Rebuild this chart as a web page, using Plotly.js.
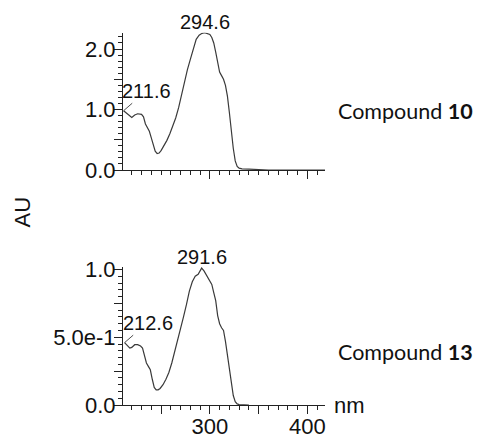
<!DOCTYPE html>
<html>
<head>
<meta charset="utf-8">
<script src="https://cdn.plot.ly/plotly-3.0.1.min.js"></script>
<style>html,body{margin:0;padding:0;background:#fff;}#chart{width:478px;height:436px;}</style>
</head>
<body>
<div id="chart"></div>
<script>
// Compound 10 spectrum
const wl10 = [211.6,214,217,220,223,226,230,232,234,236,238,240,242,244,246,248,250,253,256,259,262,265,268,271,274,277,280,283,286,289,292,294.6,297,300,302,304,306,308,310,312,314,316,318,320,322,324,326,328,330,333,340,348,352,360,380,400,418];
const au10 = [0.98,0.95,0.90,0.87,0.91,0.93,0.92,0.88,0.76,0.69,0.64,0.53,0.41,0.31,0.27,0.28,0.32,0.40,0.49,0.60,0.72,0.86,1.03,1.26,1.48,1.66,1.83,2.00,2.16,2.23,2.26,2.27,2.26,2.24,2.19,2.10,1.95,1.76,1.62,1.56,1.50,1.40,1.22,0.95,0.64,0.36,0.15,0.06,0.03,0.02,0.015,0.01,0,0,0,0,0];
// Compound 13 spectrum
const wl13 = [212.6,215,218,220,223,226,229,231,233,235,237,239,241,243,245,247,249,252,255,258,261,264,267,270,273,276,279,282,285,288,290,291.6,294,297,300,302,304,306,308,310,312,314,316,318,320,322,324,326,328,330,335,340];
const au13 = [0.46,0.44,0.42,0.425,0.445,0.445,0.435,0.42,0.36,0.31,0.285,0.26,0.19,0.13,0.112,0.112,0.122,0.15,0.19,0.24,0.31,0.39,0.47,0.56,0.65,0.74,0.84,0.91,0.95,0.965,0.985,1.01,0.99,0.955,0.92,0.89,0.83,0.77,0.66,0.60,0.57,0.55,0.47,0.36,0.25,0.15,0.07,0.025,0.008,0.003,0,0];
// labelled peaks
const peaks10 = [211.6, 294.6];
const peaks13 = [212.6, 291.6];
// tick labels
const xTickVals = [250,300,350,400];
const xTickText = ['','300','','400'];
const yTickVals10 = [0,0.5,1,1.5,2];
const yTickText10 = ['0.0','','1.0','','2.0'];
const yTickVals13 = [0,0.25,0.5,0.75,1];
const yTickText13 = ['0.0','','5.0e-1','','1.0'];
const labels = ['Compound <b>10</b>','Compound <b>13</b>'];

const lineColor = '#222';
const traces = [
  {x: wl10, y: au10, xaxis:'x', yaxis:'y', mode:'lines', line:{color:'#3a3a3a', width:1.2}, hoverinfo:'skip'},
  {x: wl13, y: au13, xaxis:'x2', yaxis:'y2', mode:'lines', line:{color:'#3a3a3a', width:1.2}, hoverinfo:'skip'}
];

function xaxisDef(anchor, showLabels){
  return {domain:[123/478, 325/478], anchor:anchor, range:[211,418], showline:true, linecolor:lineColor, linewidth:1,
    ticks:'outside', ticklen:8, tickwidth:1, tickcolor:lineColor, tickmode:'array', tickvals:xTickVals, ticktext:xTickText,
    showticklabels:showLabels, ticklabelstandoff:-6, showgrid:false, zeroline:false, fixedrange:true,
    tickfont:{size:22, color:'#111'},
    minor:{tickmode:'linear', tick0:200, dtick:10, ticks:'outside', ticklen:4, tickwidth:1, tickcolor:lineColor, showgrid:false}};
}
function yaxisDef(anchor, domain, range, vals, text, mdt){
  return {domain:domain, anchor:anchor, range:range, showline:true, linecolor:lineColor, linewidth:1,
    ticks:'outside', ticklen:8, tickwidth:1, tickcolor:lineColor, tickmode:'array', tickvals:vals, ticktext:text,
    ticklabelstandoff:-6, tickfont:{size:22, color:'#111'},
    showgrid:false, zeroline:false, fixedrange:true,
    minor:{tickmode:'linear', tick0:0, dtick:mdt, ticks:'outside', ticklen:4, tickwidth:1, tickcolor:lineColor, showgrid:false}};
}

function peakAnns(wl, au, peaks, xr, yr){
  const out = [];
  peaks.forEach((p, k) => {
    const i = wl.indexOf(p);
    const v = au[i];
    if (k === 0) {
      out.push({x:p, y:v, xref:xr, yref:yr, text:p.toFixed(1), showarrow:true, arrowhead:0, arrowwidth:0.8,
        arrowcolor:lineColor, ax:23, ay:-20, standoff:0, font:{size:20, color:'#111'}});
    } else {
      out.push({x:p, y:v, xref:xr, yref:yr, text:p.toFixed(1), showarrow:false, xanchor:'center', yanchor:'bottom',
        yshift:-2, font:{size:20, color:'#111'}});
    }
  });
  return out;
}

const annotations = [].concat(
  peakAnns(wl10, au10, peaks10, 'x', 'y'),
  peakAnns(wl13, au13, peaks13, 'x2', 'y2'),
  [
    {x:22/478, y:1-212.5/436, xref:'paper', yref:'paper', text:'AU', textangle:-90, showarrow:false,
      xanchor:'center', yanchor:'middle', font:{size:22, color:'#111'}},
    {x:332/478, y:1-405/436, xref:'paper', yref:'paper', text:'nm', showarrow:false,
      xanchor:'left', yanchor:'middle', font:{size:22, color:'#111'}},
    {x:336/478, y:1-111/436, xref:'paper', yref:'paper', text:labels[0], showarrow:false,
      xanchor:'left', yanchor:'middle', font:{family:'Lato, sans-serif', size:21.5, color:'#111'}},
    {x:336/478, y:1-352/436, xref:'paper', yref:'paper', text:labels[1], showarrow:false,
      xanchor:'left', yanchor:'middle', font:{family:'Lato, sans-serif', size:21.5, color:'#111'}}
  ]
);

const layout = {
  width:478, height:436, margin:{l:0, r:0, t:0, b:0}, paper_bgcolor:'#fff', plot_bgcolor:'#fff', showlegend:false,
  font:{family:'"Liberation Sans", Arial, sans-serif', size:21, color:'#111'},
  xaxis: xaxisDef('y', false),
  yaxis: yaxisDef('x', [1-170/436, 1-32.7/436], [0, 2.27], yTickVals10, yTickText10, 0.1),
  xaxis2: xaxisDef('y2', true),
  yaxis2: yaxisDef('x2', [1-405/436, 1-266.8/436], [0, 1.02], yTickVals13, yTickText13, 0.05),
  annotations: annotations
};

Plotly.newPlot('chart', traces, layout, {displayModeBar:false, staticPlot:true});
</script>
</body>
</html>
